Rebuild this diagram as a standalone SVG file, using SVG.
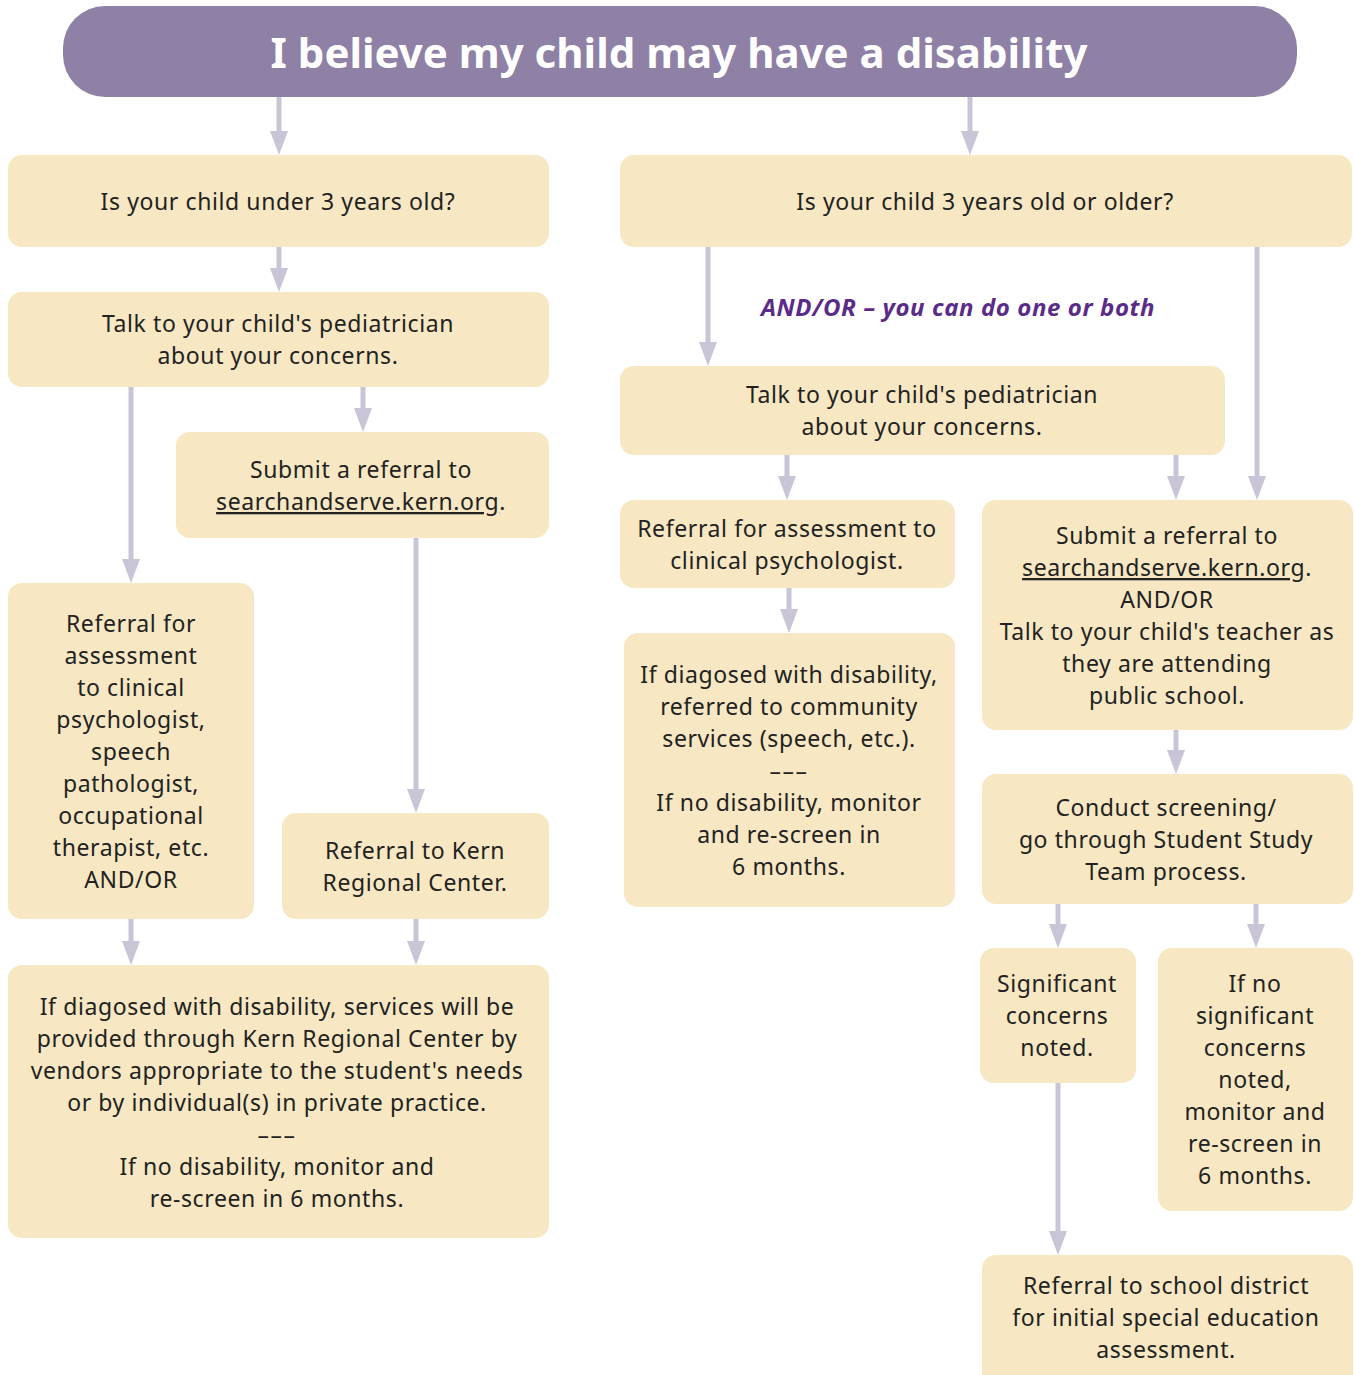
<svg xmlns="http://www.w3.org/2000/svg" width="1354" height="1375" viewBox="0 0 1354 1375">
<defs>
<style>
.node{fill:#f7e8c3;}
.t{font-family:"Noto Sans","Liberation Sans",sans-serif;font-size:23px;letter-spacing:0.6px;fill:#222222;text-anchor:middle;}
.u{text-decoration:underline;}
.c{stroke:#c9c5d7;stroke-width:5;fill:none;}
.dash{letter-spacing:1.5px;}
</style>
</defs>
<rect width="1354" height="1375" fill="#ffffff"/>

<g id="connectors">
<line class="c" x1="279" y1="97" x2="279" y2="131"/><path d="M270,131 L288,131 L279,155 Z" fill="#c9c5d7"/>
<line class="c" x1="970" y1="97" x2="970" y2="131"/><path d="M961,131 L979,131 L970,155 Z" fill="#c9c5d7"/>
<line class="c" x1="279" y1="247" x2="279" y2="268"/><path d="M270,268 L288,268 L279,292 Z" fill="#c9c5d7"/>
<line class="c" x1="131" y1="387" x2="131" y2="559"/><path d="M122,559 L140,559 L131,583 Z" fill="#c9c5d7"/>
<line class="c" x1="363" y1="387" x2="363" y2="408"/><path d="M354,408 L372,408 L363,432 Z" fill="#c9c5d7"/>
<line class="c" x1="416" y1="538" x2="416" y2="789"/><path d="M407,789 L425,789 L416,813 Z" fill="#c9c5d7"/>
<line class="c" x1="131" y1="919" x2="131" y2="941"/><path d="M122,941 L140,941 L131,965 Z" fill="#c9c5d7"/>
<line class="c" x1="416" y1="919" x2="416" y2="941"/><path d="M407,941 L425,941 L416,965 Z" fill="#c9c5d7"/>
<line class="c" x1="708" y1="247" x2="708" y2="342"/><path d="M699,342 L717,342 L708,366 Z" fill="#c9c5d7"/>
<line class="c" x1="1257" y1="247" x2="1257" y2="476"/><path d="M1248,476 L1266,476 L1257,500 Z" fill="#c9c5d7"/>
<line class="c" x1="787" y1="455" x2="787" y2="476"/><path d="M778,476 L796,476 L787,500 Z" fill="#c9c5d7"/>
<line class="c" x1="1176" y1="455" x2="1176" y2="476"/><path d="M1167,476 L1185,476 L1176,500 Z" fill="#c9c5d7"/>
<line class="c" x1="789" y1="588" x2="789" y2="609"/><path d="M780,609 L798,609 L789,633 Z" fill="#c9c5d7"/>
<line class="c" x1="1176" y1="730" x2="1176" y2="750"/><path d="M1167,750 L1185,750 L1176,774 Z" fill="#c9c5d7"/>
<line class="c" x1="1058" y1="904" x2="1058" y2="924"/><path d="M1049,924 L1067,924 L1058,948 Z" fill="#c9c5d7"/>
<line class="c" x1="1256" y1="904" x2="1256" y2="924"/><path d="M1247,924 L1265,924 L1256,948 Z" fill="#c9c5d7"/>
<line class="c" x1="1058" y1="1083" x2="1058" y2="1231"/><path d="M1049,1231 L1067,1231 L1058,1255 Z" fill="#c9c5d7"/>
</g>

<g id="header">
<rect x="63" y="6" width="1234" height="91" rx="42" fill="#8f80a6"/>
<text x="679" y="68" font-family="'Noto Sans','Liberation Sans',sans-serif" font-size="42" font-weight="bold" fill="#ffffff" text-anchor="middle">I believe my child may have a disability</text>
</g>

<g id="andor-label">
<text x="958" y="316" font-family="'Noto Sans','Liberation Sans',sans-serif" font-size="24" letter-spacing="0.6" font-weight="bold" font-style="italic" fill="#5b2c87" text-anchor="middle">AND/OR – you can do one or both</text>
</g>

<g id="under3">
<rect class="node" x="8" y="155" width="541" height="92" rx="14"/>
<text class="t"><tspan x="278" y="210">Is your child under 3 years old?</tspan></text>
</g>

<g id="over3">
<rect class="node" x="620" y="155" width="732" height="92" rx="14"/>
<text class="t"><tspan x="985" y="210">Is your child 3 years old or older?</tspan></text>
</g>

<g id="ped-left">
<rect class="node" x="8" y="292" width="541" height="95" rx="14"/>
<text class="t"><tspan x="278" y="332">Talk to your child's pediatrician</tspan><tspan x="278" y="364">about your concerns.</tspan></text>
</g>

<g id="submit-left">
<rect class="node" x="176" y="432" width="373" height="106" rx="14"/>
<text class="t"><tspan x="361" y="478">Submit a referral to</tspan><tspan x="361" y="510"><tspan class="u">searchandserve.kern.org</tspan>.</tspan></text>
</g>

<g id="assess-left">
<rect class="node" x="8" y="583" width="246" height="336" rx="14"/>
<text class="t"><tspan x="131" y="632">Referral for</tspan><tspan x="131" y="664">assessment</tspan><tspan x="131" y="696">to clinical</tspan><tspan x="131" y="728">psychologist,</tspan><tspan x="131" y="760">speech</tspan><tspan x="131" y="792">pathologist,</tspan><tspan x="131" y="824">occupational</tspan><tspan x="131" y="856">therapist, etc.</tspan><tspan x="131" y="888">AND/OR</tspan></text>
</g>

<g id="kern-rc">
<rect class="node" x="282" y="813" width="267" height="106" rx="14"/>
<text class="t"><tspan x="415" y="859">Referral to Kern</tspan><tspan x="415" y="891">Regional Center.</tspan></text>
</g>

<g id="diag-left">
<rect class="node" x="8" y="965" width="541" height="273" rx="14"/>
<text class="t"><tspan x="277" y="1015">If diagosed with disability, services will be</tspan><tspan x="277" y="1047">provided through Kern Regional Center by</tspan><tspan x="277" y="1079">vendors appropriate to the student's needs</tspan><tspan x="277" y="1111">or by individual(s) in private practice.</tspan><tspan x="277" y="1143" class="dash">–––</tspan><tspan x="277" y="1175">If no disability, monitor and</tspan><tspan x="277" y="1207">re-screen in 6 months.</tspan></text>
</g>

<g id="ped-right">
<rect class="node" x="620" y="366" width="605" height="89" rx="14"/>
<text class="t"><tspan x="922" y="403">Talk to your child's pediatrician</tspan><tspan x="922" y="435">about your concerns.</tspan></text>
</g>

<g id="assess-right">
<rect class="node" x="620" y="500" width="335" height="88" rx="14"/>
<text class="t"><tspan x="787" y="537">Referral for assessment to</tspan><tspan x="787" y="569">clinical psychologist.</tspan></text>
</g>

<g id="submit-right">
<rect class="node" x="982" y="500" width="371" height="230" rx="14"/>
<text class="t"><tspan x="1167" y="544">Submit a referral to</tspan><tspan x="1167" y="576"><tspan class="u">searchandserve.kern.org</tspan>.</tspan><tspan x="1167" y="608">AND/OR</tspan><tspan x="1167" y="640">Talk to your child's teacher as</tspan><tspan x="1167" y="672">they are attending</tspan><tspan x="1167" y="704">public school.</tspan></text>
</g>

<g id="diag-right">
<rect class="node" x="624" y="633" width="331" height="274" rx="14"/>
<text class="t"><tspan x="789" y="683">If diagosed with disability,</tspan><tspan x="789" y="715">referred to community</tspan><tspan x="789" y="747">services (speech, etc.).</tspan><tspan x="789" y="779" class="dash">–––</tspan><tspan x="789" y="811">If no disability, monitor</tspan><tspan x="789" y="843">and re-screen in</tspan><tspan x="789" y="875">6 months.</tspan></text>
</g>

<g id="screening">
<rect class="node" x="982" y="774" width="371" height="130" rx="14"/>
<text class="t"><tspan x="1166" y="816">Conduct screening/</tspan><tspan x="1166" y="848">go through Student Study</tspan><tspan x="1166" y="880">Team process.</tspan></text>
</g>

<g id="significant">
<rect class="node" x="980" y="948" width="156" height="135" rx="14"/>
<text class="t"><tspan x="1057" y="992">Significant</tspan><tspan x="1057" y="1024">concerns</tspan><tspan x="1057" y="1056">noted.</tspan></text>
</g>

<g id="no-significant">
<rect class="node" x="1158" y="948" width="195" height="263" rx="14"/>
<text class="t"><tspan x="1255" y="992">If no</tspan><tspan x="1255" y="1024">significant</tspan><tspan x="1255" y="1056">concerns</tspan><tspan x="1255" y="1088">noted,</tspan><tspan x="1255" y="1120">monitor and</tspan><tspan x="1255" y="1152">re-screen in</tspan><tspan x="1255" y="1184">6 months.</tspan></text>
</g>

<g id="school-district">
<rect class="node" x="982" y="1255" width="371" height="140" rx="14"/>
<text class="t"><tspan x="1166" y="1294">Referral to school district</tspan><tspan x="1166" y="1326">for initial special education</tspan><tspan x="1166" y="1358">assessment.</tspan></text>
</g>
</svg>
